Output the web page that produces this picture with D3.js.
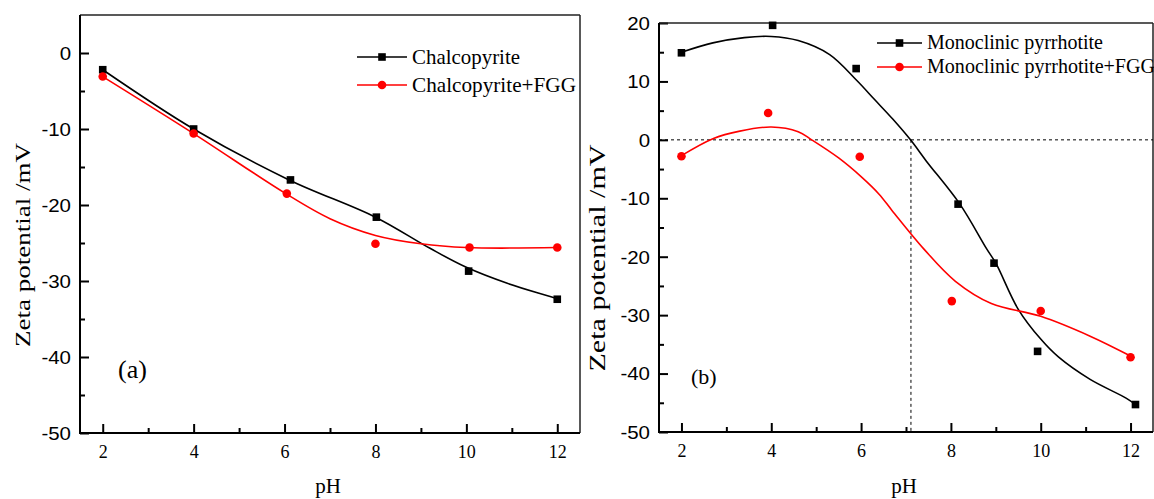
<!DOCTYPE html>
<html>
<head>
<meta charset="utf-8">
<script src="https://cdn.jsdelivr.net/npm/d3@7"></script>
<style>
  html, body { margin: 0; padding: 0; background: #ffffff; }
  svg { display: block; }
</style>
</head>
<body>
<svg id="chart" width="1154" height="499"></svg>
<script>
// ---------- Data ----------
const pHTicks = [2, 4, 6, 8, 10, 12];
const pHMinorTicks = [3, 5, 7, 9, 11];
const yTicksA = [0, -10, -20, -30, -40, -50];
const yTicksB = [20, 10, 0, -10, -20, -30, -40, -50];

// Panel (a) measured points
const chalcoPH   = [2, 4, 6.13, 8.02, 10.05, 12];
const chalcoZeta = [-2.2, -10, -16.7, -21.6, -28.7, -32.4];
const chalcoFggPH   = [2, 4, 6.05, 8, 10.07, 12];
const chalcoFggZeta = [-3.1, -10.6, -18.5, -25.1, -25.6, -25.6];

// Panel (a) fitted curves
const chalcoFitPH   = [2, 4, 6.1, 8, 9.2, 10, 10.9, 12];
const chalcoFitZeta = [-2.2, -10, -16.7, -21.6, -25.7, -28.2, -30.3, -32.3];
const chalcoFggFitPH   = [2, 4, 6, 7, 8, 9, 10, 12];
const chalcoFggFitZeta = [-3.1, -10.6, -18.4, -21.8, -24.0, -25.1, -25.6, -25.6];

// Panel (b) measured points
const pyrrPH   = [2, 4.03, 5.89, 8.16, 8.96, 9.93, 12.11];
const pyrrZeta = [14.9, 19.6, 12.2, -11, -21.1, -36.2, -45.3];
const pyrrFggPH   = [2, 3.93, 5.97, 8.02, 10, 12];
const pyrrFggZeta = [-2.8, 4.6, -2.9, -27.6, -29.3, -37.2];

// Panel (b) fitted curves
const pyrrFitPH   = [2, 2.7, 3.4, 4, 4.6, 5.3, 5.9, 6.3, 6.7, 7.1, 7.45, 8.2, 8.8, 9, 9.5, 10, 10.4, 11.1, 11.9, 12.11];
const pyrrFitZeta = [15, 16.6, 17.5, 17.7, 17.0, 14.6, 10.2, 6.9, 3.6, 0, -3.6, -11, -18.7, -21.1, -29.0, -34.1, -37.2, -41.0, -44.2, -45.3];
const pyrrFggFitPH   = [2, 2.7, 3.3, 4, 4.6, 4.9, 5.5, 6, 6.4, 6.7, 7.4, 8.1, 8.9, 10, 11.1, 12];
const pyrrFggFitZeta = [-2.7, 0.2, 1.5, 2.2, 1.4, 0, -3.1, -6.3, -9.3, -12.2, -18.7, -24.2, -28, -30.2, -33.6, -37];

const iepPH = 7.11;   // isoelectric point (dashed guide)

const legendA = ["Chalcopyrite", "Chalcopyrite+FGG"];
const legendB = ["Monoclinic pyrrhotite", "Monoclinic pyrrhotite+FGG"];
const yLabel = "Zeta potential /mV";
const xLabel = "pH";

// ---------- Drawing ----------
const svg = d3.select("#chart");
const serif = "'Liberation Serif', 'Times New Roman', serif";
const sans = "'Liberation Sans', Arial, sans-serif";
const zip = (xs, ys) => xs.map((x, i) => [x, ys[i]]);

function stretch(sel, k) {
  sel.each(function () {
    const w = this.getComputedTextLength();
    d3.select(this).attr("textLength", w * k).attr("lengthAdjust", "spacingAndGlyphs");
  });
}

function panel(cfg) {
  const x = d3.scaleLinear().domain([1.5, 12.5]).range([cfg.left, cfg.right]);
  const y = d3.scaleLinear().domain(cfg.yDomain).range([cfg.bottom, cfg.top]);
  const g = svg.append("g");

  // y axis
  const yAx = g.append("g").attr("transform", `translate(${cfg.left},0)`)
    .call(d3.axisLeft(y).tickValues(cfg.yTicks).tickSizeInner(-9).tickSizeOuter(0)
      .tickPadding(9).tickFormat(d => String(d)));
  yAx.select(".domain").remove();
  yAx.selectAll("line").attr("stroke", "#000").attr("stroke-width", 2);
  const yt = yAx.selectAll("text").attr("font-family", sans).attr("font-size", 17.5)
    .attr("fill", "#000").attr("dy", "0.36em");
  stretch(yt, 1.17);
  const yMinor = d3.range(cfg.yDomain[0] + 5, cfg.yDomain[1], 10);
  const yMi = g.append("g").attr("transform", `translate(${cfg.left},0)`)
    .call(d3.axisLeft(y).tickValues(yMinor).tickSizeInner(-5).tickSizeOuter(0).tickFormat(""));
  yMi.select(".domain").remove();
  yMi.selectAll("line").attr("stroke", "#000").attr("stroke-width", 2);

  // x axis
  const xAx = g.append("g").attr("transform", `translate(0,${cfg.bottom})`)
    .call(d3.axisBottom(x).tickValues(pHTicks).tickSizeInner(-9).tickSizeOuter(0).tickFormat(d => String(d)));
  xAx.select(".domain").remove();
  xAx.selectAll("line").attr("stroke", "#000").attr("stroke-width", 2);
  xAx.selectAll("text").attr("font-family", serif).attr("font-size", 18).attr("fill", "#000")
    .attr("y", 25).attr("dy", 0);
  const xMi = g.append("g").attr("transform", `translate(0,${cfg.bottom})`)
    .call(d3.axisBottom(x).tickValues(pHMinorTicks).tickSizeInner(-5).tickSizeOuter(0).tickFormat(""));
  xMi.select(".domain").remove();
  xMi.selectAll("line").attr("stroke", "#000").attr("stroke-width", 2);

  // frame
  g.append("line").attr("x1", cfg.left).attr("x2", cfg.right).attr("y1", cfg.top).attr("y2", cfg.top)
    .attr("stroke", "#222").attr("stroke-width", 1.5);
  g.append("line").attr("x1", cfg.right).attr("x2", cfg.right).attr("y1", cfg.top).attr("y2", cfg.bottom)
    .attr("stroke", "#222").attr("stroke-width", 1.5);
  g.append("line").attr("x1", cfg.left).attr("x2", cfg.left).attr("y1", cfg.top).attr("y2", cfg.bottom + 1)
    .attr("stroke", "#000").attr("stroke-width", 2);
  g.append("line").attr("x1", cfg.left - 1).attr("x2", cfg.right).attr("y1", cfg.bottom).attr("y2", cfg.bottom)
    .attr("stroke", "#000").attr("stroke-width", 2);

  // dashed guides
  if (cfg.iep) {
    g.append("line").attr("x1", cfg.left).attr("x2", cfg.right).attr("y1", y(0)).attr("y2", y(0))
      .attr("stroke", "#000").attr("stroke-width", 1).attr("stroke-dasharray", "3,3");
    g.append("line").attr("x1", x(cfg.iep)).attr("x2", x(cfg.iep)).attr("y1", y(0)).attr("y2", cfg.bottom)
      .attr("stroke", "#000").attr("stroke-width", 1).attr("stroke-dasharray", "3,3");
  }

  // curves
  const line = d3.line().x(d => x(d[0])).y(d => y(d[1])).curve(d3.curveCatmullRom.alpha(0.5));
  cfg.series.forEach(s => {
    g.append("path").attr("d", line(s.fit)).attr("fill", "none")
      .attr("stroke", s.color).attr("stroke-width", 1.6);
  });
  // markers
  cfg.series.forEach(s => {
    if (s.shape === "square") {
      g.selectAll(null).data(s.pts).enter().append("rect")
        .attr("x", d => x(d[0]) - 3.8).attr("y", d => y(d[1]) - 3.8)
        .attr("width", 7.6).attr("height", 7.6).attr("fill", s.color);
    } else {
      g.selectAll(null).data(s.pts).enter().append("circle")
        .attr("cx", d => x(d[0])).attr("cy", d => y(d[1])).attr("r", 4.3).attr("fill", s.color);
    }
  });

  // legend
  cfg.series.forEach((s, i) => {
    const ly = cfg.legend.y0 + i * cfg.legend.dy;
    g.append("line").attr("x1", cfg.legend.x1).attr("x2", cfg.legend.x2).attr("y1", ly).attr("y2", ly)
      .attr("stroke", s.color).attr("stroke-width", 1.6);
    const mx = (cfg.legend.x1 + cfg.legend.x2) / 2;
    if (s.shape === "square") {
      g.append("rect").attr("x", mx - 3.8).attr("y", ly - 3.8).attr("width", 7.6).attr("height", 7.6).attr("fill", s.color);
    } else {
      g.append("circle").attr("cx", mx).attr("cy", ly).attr("r", 4.3).attr("fill", s.color);
    }
    g.append("text").attr("x", cfg.legend.tx).attr("y", ly + cfg.legend.base)
      .attr("font-family", serif).attr("font-size", cfg.legend.fs).attr("fill", "#000")
      .attr("textLength", cfg.legend.len[i]).attr("lengthAdjust", "spacingAndGlyphs")
      .text(cfg.legendText[i]);
  });

  // axis titles
  g.append("text").attr("transform", `translate(${cfg.yl.x},${cfg.yl.y}) rotate(-90)`)
    .attr("text-anchor", "middle").attr("dominant-baseline", "central")
    .attr("font-family", serif).attr("font-size", cfg.yl.fs).attr("fill", "#000")
    .attr("textLength", cfg.yl.len).attr("lengthAdjust", "spacingAndGlyphs")
    .text(yLabel);
  g.append("text").attr("x", (cfg.left + cfg.right) / 2 - 2).attr("y", 493)
    .attr("text-anchor", "middle").attr("font-family", serif).attr("font-size", 21).attr("fill", "#000")
    .text(xLabel);

  // panel tag
  g.append("text").attr("x", cfg.tag.x).attr("y", cfg.tag.y)
    .attr("font-family", serif).attr("font-size", cfg.tag.fs).attr("fill", "#000").text(cfg.tag.t);
}

panel({
  left: 80, right: 580, top: 15, bottom: 433,
  yDomain: [-50, 5], yTicks: yTicksA,
  series: [
    { color: "#000000", shape: "square", pts: zip(chalcoPH, chalcoZeta), fit: zip(chalcoFitPH, chalcoFitZeta) },
    { color: "#ff0000", shape: "circle", pts: zip(chalcoFggPH, chalcoFggZeta), fit: zip(chalcoFggFitPH, chalcoFggFitZeta) }
  ],
  legendText: legendA,
  legend: { x1: 357, x2: 407, tx: 412, y0: 57, dy: 28, base: 7, fs: 22, len: [108, 164] },
  yl: { x: 22, y: 245, len: 204, fs: 22 },
  tag: { x: 118, y: 378, fs: 26, t: "(a)" }
});

panel({
  left: 659, right: 1153, top: 23, bottom: 432,
  yDomain: [-50, 20], yTicks: yTicksB, iep: iepPH,
  series: [
    { color: "#000000", shape: "square", pts: zip(pyrrPH, pyrrZeta), fit: zip(pyrrFitPH, pyrrFitZeta) },
    { color: "#ff0000", shape: "circle", pts: zip(pyrrFggPH, pyrrFggZeta), fit: zip(pyrrFggFitPH, pyrrFggFitZeta) }
  ],
  legendText: legendB,
  legend: { x1: 877, x2: 922, tx: 927, y0: 43, dy: 24, base: 6, fs: 20, len: [176, 228] },
  yl: { x: 597, y: 258, len: 227, fs: 23 },
  tag: { x: 691, y: 384, fs: 22, t: "(b)" }
});
</script>
</body>
</html>
